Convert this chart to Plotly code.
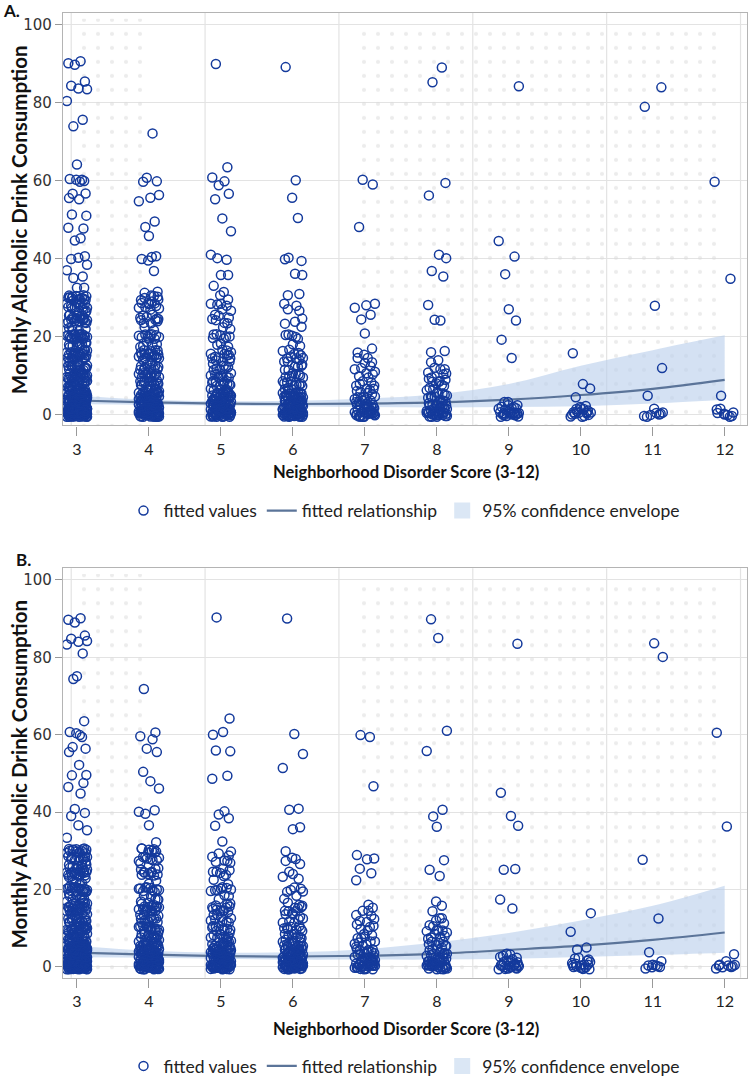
import plotly.graph_objects as go

# categories (neighborhood disorder score)
scores = [3, 4, 5, 6, 7, 8, 9, 10, 11, 12]

# how many respondents sit at each low drink count (the solid part of each column)
low_counts = {
    3: {0: 45, 1: 22, 2: 20, 3: 18, 4: 16, 5: 16, 6: 12, 7: 6, 8: 12, 9: 4, 10: 14, 11: 3, 12: 12,
        13: 3, 14: 5, 15: 12, 16: 8, 17: 3, 18: 7, 19: 2, 20: 16, 21: 2, 22: 3, 23: 2, 24: 10, 25: 8,
        26: 3, 27: 4, 28: 8, 29: 3, 30: 12},
    4: {0: 35, 1: 15, 2: 14, 3: 12, 4: 12, 5: 12, 6: 8, 7: 4, 8: 9, 9: 3, 10: 10, 11: 2, 12: 8,
        13: 2, 14: 4, 15: 9, 16: 6, 17: 2, 18: 4, 20: 10, 22: 2, 24: 6, 25: 5, 27: 2, 28: 6, 29: 2,
        30: 6},
    5: {0: 30, 1: 12, 2: 12, 3: 10, 4: 10, 5: 10, 6: 7, 7: 3, 8: 7, 9: 2, 10: 8, 12: 6, 13: 2,
        14: 3, 15: 6, 16: 4, 18: 3, 20: 7, 22: 2, 24: 4, 25: 3, 27: 2, 28: 3, 29: 2},
    6: {0: 30, 1: 12, 2: 12, 3: 10, 4: 9, 5: 9, 6: 7, 7: 3, 8: 6, 9: 2, 10: 7, 12: 5, 13: 2, 14: 3,
        15: 5, 16: 3, 18: 2, 20: 5, 23: 2, 24: 2, 27: 2, 28: 2},
    7: {0: 18, 1: 8, 2: 7, 3: 6, 4: 5, 5: 4, 6: 4, 7: 2, 8: 3, 9: 2, 10: 3, 11: 1, 12: 3, 13: 1,
        14: 2, 15: 2},
    8: {0: 18, 1: 8, 2: 7, 3: 6, 4: 5, 5: 4, 6: 4, 7: 2, 8: 4, 9: 3, 10: 3, 11: 2, 12: 2, 13: 1,
        14: 1},
    9: {0: 14, 1: 6, 2: 4, 3: 2},
    10: {0: 10, 1: 5, 2: 3},
    11: {0: 6, 1: 2},
    12: {0: 6, 1: 3},
}

# upper values, panel A
high_a = {
    3: [90.6, 90.3, 89.9, 84.8, 84.3, 84.0, 83.0, 80.5, 75.4, 74.5, 63.6, 60.4, 60.1, 59.9, 59.6, 60.2,
        57.0, 56.3, 55.6, 55.0, 51.6, 50.8, 48.2, 47.6, 45.4, 44.0, 40.6, 40.3, 39.8, 38.5, 36.8, 36.0,
        34.5, 33.0, 32.2],
    4: [72.5, 60.3, 59.9, 59.5, 56.2, 55.8, 55.2, 49.2, 48.3, 45.2, 40.6, 40.3, 40.0, 39.6, 36.6, 31.8,
        31.0],
    5: [89.6, 63.6, 60.2, 59.8, 59.2, 56.2, 55.3, 50.1, 47.6, 40.5, 40.2, 39.8, 36.0, 35.2, 33.0, 31.8,
        30.2],
    6: [89.6, 59.8, 55.8, 49.8, 40.2, 39.8, 39.4, 36.2, 35.6, 31.2, 30.4],
    7: [60.0, 59.6, 47.6, 28.5, 28.1, 27.6, 25.0, 24.4, 21.2, 16.5, 16.0],
    8: [89.2, 84.6, 59.4, 56.6, 40.6, 40.2, 36.6, 36.0, 27.6, 24.6, 24.0, 16.5, 15.4],
    9: [84.0, 45.1, 40.0, 36.5, 26.7, 24.3, 18.6, 14.5, 3.6],
    10: [15.2, 8.3, 6.4, 4.6],
    11: [83.4, 79.4, 27.6, 12.1, 4.2],
    12: [59.4, 35.0, 4.2],
}

# upper values, panel B
high_b = {
    3: [90.2, 89.8, 89.2, 85.0, 84.8, 84.4, 83.8, 83.4, 80.8, 75.0, 74.6, 64.0, 60.4, 60.1, 59.8, 59.4,
        57.2, 56.0, 55.6, 52.0, 50.2, 49.0, 48.0, 46.2, 45.0, 40.2, 39.8, 39.4, 36.2, 35.4, 33.2, 31.0],
    4: [72.0, 60.0, 59.6, 59.2, 56.0, 55.6, 50.2, 48.6, 45.6, 40.6, 40.2, 39.8, 36.0, 32.2, 31.0],
    5: [90.4, 64.0, 60.6, 60.2, 56.2, 55.6, 49.6, 48.0, 40.2, 39.8, 38.0, 36.6, 32.2, 30.4],
    6: [89.4, 60.2, 55.4, 51.0, 41.0, 40.4, 36.2, 35.6, 30.4],
    7: [60.0, 59.4, 47.2, 28.6, 28.0, 27.4, 25.4, 24.6, 22.0, 16.2],
    8: [90.0, 84.4, 61.0, 56.2, 40.2, 39.0, 36.0, 28.2, 24.6, 24.0, 16.6, 16.0],
    9: [83.6, 44.8, 39.6, 36.0, 25.6, 25.0, 17.6, 14.5, 3.4],
    10: [14.5, 8.6, 5.5, 4.2],
    11: [84.2, 79.6, 28.2, 12.2, 4.0],
    12: [61.0, 36.0, 3.5],
}

# fitted relationship and 95% envelope
fit_x = [3, 4, 5, 6, 7, 8, 9, 10, 11, 12]
fit_a = [3.6, 3.1, 2.8, 2.7, 2.8, 3.1, 3.8, 5.0, 6.6, 8.9]
upper_a = [4.8, 3.8, 3.4, 3.5, 4.1, 5.2, 7.8, 12.5, 16.5, 20.3]
lower_a = [2.7, 2.5, 2.3, 2.1, 1.9, 1.8, 1.9, 2.1, 2.8, 3.8]
fit_b = [3.7, 3.2, 2.8, 2.7, 2.9, 3.4, 4.4, 5.5, 7.0, 8.9]
upper_b = [5.4, 4.2, 3.7, 3.8, 4.6, 6.4, 8.8, 12.0, 15.8, 21.0]
lower_b = [2.5, 2.4, 2.1, 1.9, 1.9, 1.9, 2.1, 2.6, 3.1, 3.7]

# fixed jitter patterns used to spread overlapping points
JITTER = [-0.12, 0.05, -0.03, 0.11, -0.08, 0.02, 0.14, -0.14, 0.08, -0.05, 0.0, 0.10,
          -0.10, 0.04, -0.01, 0.07, -0.06, 0.12, -0.11, 0.03, 0.13, -0.07, 0.09]
YJIT = [-0.5, 0.3, -0.2, 0.6, 0.0, -0.4, 0.4, -0.1, 0.2, -0.6, 0.5]

W, H = 750, 1084
PT = '#143a9c'
BAND = 'rgba(186,207,236,0.62)'
FONT = 'Lato'


def px_x(p):
    return p / W


def px_y(p):
    return 1 - p / H


def points(high):
    xs, ys = [], []
    k = 0
    for s in scores:
        vals = list(high[s])
        for v, c in low_counts[s].items():
            vals += [v] * c
        for v in vals:
            xs.append(s + JITTER[k % len(JITTER)])
            ys.append(v + YJIT[k % len(YJIT)])
            k += 1
    return xs, ys


fig = go.Figure()

panels = [
    ('x', 'y', 'legend', high_a, fit_a, upper_a, lower_a),
    ('x2', 'y2', 'legend2', high_b, fit_b, upper_b, lower_b),
]

for xa, ya, lg, high, fit, up, lo in panels:
    # faint dotted background (scan texture in the original)
    fig.add_trace(go.Bar(
        x=[3.45, 9.44], y=[104.3, 102.8], base=[-2.8, -2.8], width=[1.04, 4.96],
        marker=dict(color='rgba(0,0,0,0)', line_width=0,
                    pattern=dict(shape='.', fgcolor='#dadada', bgcolor='rgba(0,0,0,0)',
                                 size=14, solidity=0.07)),
        xaxis=xa, yaxis=ya, showlegend=False, hoverinfo='skip'))
    fig.add_trace(go.Scatter(
        x=fit_x, y=lo, mode='lines', line=dict(width=0, shape='spline'),
        showlegend=False, hoverinfo='skip', xaxis=xa, yaxis=ya))
    fig.add_trace(go.Scatter(
        x=fit_x, y=up, fill='tonexty', mode='lines',
        line=dict(width=0, shape='spline'), fillcolor=BAND,
        showlegend=False, hoverinfo='skip', xaxis=xa, yaxis=ya))
    fig.add_trace(go.Scatter(
        x=fit_x, y=fit, mode='lines', line=dict(color='#5b7499', width=2.2, shape='spline'),
        name='fitted relationship', legend=lg, legendrank=2, xaxis=xa, yaxis=ya))
    px_, py_ = points(high)
    fig.add_trace(go.Scatter(
        x=px_, y=py_, mode='markers',
        marker=dict(symbol='circle-open', size=9, color=PT, line=dict(width=1.5, color=PT)),
        name='fitted values', legend=lg, legendrank=1, xaxis=xa, yaxis=ya))
    # legend key for the envelope (box swatch)
    fig.add_trace(go.Scatter(
        x=[None], y=[None], mode='markers',
        marker=dict(symbol='square', size=20, color='#dbe7f5'),
        name='95% confidence envelope', legend=lg, legendrank=3, xaxis=xa, yaxis=ya))

xdom = [px_x(63), px_x(747)]
ax_common = dict(range=[2.806, 12.31], tickvals=scores, ticks='outside', ticklen=9,
                 tickcolor='#999', showgrid=False, zeroline=False, showline=True, mirror=True,
                 linecolor='#b4b4b4', linewidth=1.2, automargin=False,
                 tickfont=dict(family=FONT, size=16, color='#222'), domain=xdom)
ay_common = dict(range=[-2.8, 103], tickvals=[0, 20, 40, 60, 80, 100], ticks='outside', ticklen=7,
                 tickcolor='#999', showgrid=True, gridcolor='#e3e3e3', gridwidth=1.2,
                 zeroline=False, showline=True, mirror=True, linecolor='#b4b4b4', linewidth=1.2,
                 automargin=False,
                 tickfont=dict(family='DejaVu Sans', size=15, color='#333'))

legend_common = dict(orientation='h', xanchor='center', x=px_x(404), yanchor='middle',
                     font=dict(family=FONT, size=17.5, color='#222'), bgcolor='rgba(0,0,0,0)',
                     itemwidth=30, tracegroupgap=0, traceorder='normal')

shapes = []
for ya_ in ['y', 'y2']:
    xa_ = 'x' if ya_ == 'y' else 'x2'
    for g in [2.92, 4.78, 6.64, 8.50, 10.36, 12.22]:
        shapes.append(dict(type='line', xref=xa_, yref=ya_ + ' domain', x0=g, x1=g, y0=0, y1=1,
                           line=dict(color='#e3e3e3', width=1.2), layer='below'))

annotations = [
    dict(text='<b>A.</b>', x=px_x(1), y=px_y(11), xanchor='left', yanchor='middle'),
    dict(text='<b>B.</b>', x=px_x(14), y=px_y(564), xanchor='left', yanchor='middle'),
    dict(text='<b>Monthly Alcoholic Drink Consumption</b>', x=px_x(19), y=px_y(222),
         textangle=-90, xanchor='center', yanchor='middle', font_size=20.5),
    dict(text='<b>Monthly Alcoholic Drink Consumption</b>', x=px_x(19), y=px_y(781),
         textangle=-90, xanchor='center', yanchor='middle', font_size=20.5),
    dict(text='<b>Neighborhood Disorder Score (3-12)</b>', x=px_x(406), y=px_y(476),
         xanchor='center', yanchor='middle', font_size=16.5),
    dict(text='<b>Neighborhood Disorder Score (3-12)</b>', x=px_x(406), y=px_y(1038),
         xanchor='center', yanchor='middle', font_size=16.5),
]
for a in annotations:
    fs = a.pop('font_size', 17)
    a.update(xref='paper', yref='paper', showarrow=False,
             font=dict(family=FONT, size=fs, color='#111'))

fig.update_layout(
    width=W, height=H,
    margin=dict(l=0, r=0, t=0, b=0, pad=0),
    paper_bgcolor='white', plot_bgcolor='white',
    barmode='overlay',
    xaxis=dict(ax_common, anchor='y'),
    yaxis=dict(ay_common, anchor='x', domain=[px_y(429), px_y(13)]),
    xaxis2=dict(ax_common, anchor='y2'),
    yaxis2=dict(ay_common, anchor='x2', domain=[px_y(986), px_y(573)]),
    legend=dict(legend_common, y=px_y(515)),
    legend2=dict(legend_common, y=px_y(1075)),
    shapes=shapes,
    annotations=annotations,
)

# drop the browser's default 8px page margin so the figure fills the window
fig.write_html("out.html", config={'displayModeBar': False},
               post_script="document.body.style.margin='0px';")
